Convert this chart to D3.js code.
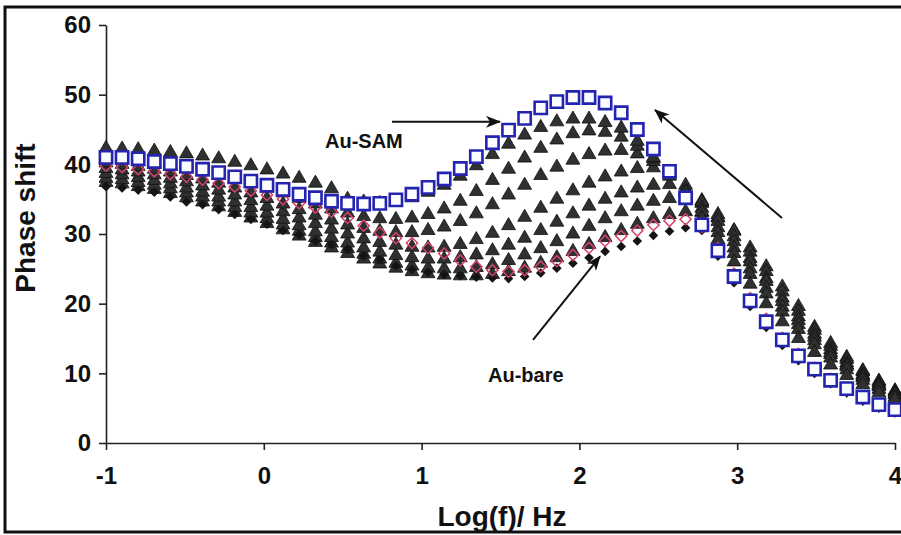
<!DOCTYPE html>
<html>
<head>
<meta charset="utf-8">
<script src="https://cdn.jsdelivr.net/npm/d3@7"></script>
<style>
body { margin: 0; background: #fff; }
svg text { font-family: Arial, "Liberation Sans", sans-serif; }
</style>
</head>
<body>
<div id="chart"></div>
<script>
// log of frequency (Hz), 50 points from 0.1 Hz to 10 kHz
var logF = [-1.000,-0.898,-0.796,-0.694,-0.592,-0.490,-0.388,-0.286,-0.184,-0.082,
            0.020,0.122,0.224,0.327,0.429,0.531,0.633,0.735,0.837,0.939,
            1.041,1.143,1.245,1.347,1.449,1.551,1.653,1.755,1.857,1.959,
            2.061,2.163,2.265,2.367,2.469,2.571,2.673,2.776,2.878,2.980,
            3.082,3.184,3.286,3.388,3.490,3.592,3.694,3.796,3.898,4.000];

// phase shift, degrees
var auSam = [41.0,41.0,40.8,40.4,40.1,39.7,39.3,38.8,38.2,37.6,
             37.0,36.4,35.7,35.2,34.7,34.4,34.3,34.4,34.9,35.7,
             36.7,37.9,39.4,41.1,43.1,44.9,46.6,48.1,49.0,49.6,
             49.6,48.8,47.4,45.0,42.2,39.0,35.2,31.3,27.6,23.9,
             20.4,17.4,14.8,12.5,10.6,9.0,7.8,6.6,5.5,4.8];

var auBare = [36.8,36.6,36.3,36.0,35.3,34.6,34.2,33.5,32.8,32.1,
              31.4,30.5,29.9,29.0,28.5,27.8,26.9,26.3,25.4,24.9,
              24.5,24.2,24.0,23.8,23.7,23.6,23.9,24.4,25.1,25.8,
              26.6,27.5,28.2,29.0,29.8,30.4,30.9,30.5,26.8,23.0,
              19.6,16.6,14.0,11.8,10.0,8.5,7.2,6.0,5.0,4.3];

var auBare2 = [39.8,39.6,39.3,39.0,38.6,38.2,37.8,37.3,36.8,36.2,
               35.6,35.0,34.4,33.8,33.2,32.3,31.2,30.2,29.4,28.7,
               28.0,27.2,26.2,25.3,24.8,24.6,24.8,25.3,26.1,27.0,
               28.0,29.0,29.7,30.5,31.3,31.9,32.1,31.0,28.0,24.3,
               20.8,17.8,15.1,12.8,10.8,9.2,7.8,6.6,5.6,4.9];

var tri1 = [42.3,42.2,42.1,41.9,41.7,41.5,41.2,40.8,40.3,39.8,
            39.2,38.6,38.0,37.3,36.5,35.0,34.6,34.4,34.6,35.2,
            36.0,37.0,38.3,39.8,41.4,42.9,44.2,45.3,46.1,46.5,
            46.5,46.0,45.2,43.3,41.0,38.3,35.3,32.3,29.2,26.0,
            22.8,20.0,17.4,15.0,13.0,11.2,9.7,8.4,7.2,6.3];
var tri2 = [40.8,40.6,40.4,40.1,39.8,39.4,39.0,38.5,37.9,37.3,
            36.6,35.9,35.1,34.3,33.6,33.0,32.5,32.2,32.1,32.3,
            32.8,33.6,34.7,36.1,37.7,39.3,40.9,42.3,43.5,44.4,
            44.8,44.6,43.9,42.6,40.8,38.6,36.0,33.2,30.2,27.2,
            24.2,21.4,18.8,16.3,14.1,12.2,10.5,9.0,7.7,6.6];
var tri3 = [40.2,40.0,39.7,39.3,38.9,38.4,37.9,37.3,36.6,35.9,
            35.1,34.3,33.5,32.7,32.0,31.3,30.8,30.4,30.2,30.2,
            30.5,31.0,31.8,32.9,34.2,35.6,37.0,38.4,39.6,40.6,
            41.4,41.9,42.0,41.5,40.4,38.6,36.3,33.7,30.9,28.0,
            25.0,22.2,19.5,17.0,14.7,12.7,11.0,9.4,8.1,7.0];
var tri4 = [39.4,39.2,38.9,38.5,38.0,37.5,36.9,36.3,35.6,34.8,
            34.0,33.2,32.3,31.5,30.7,30.0,29.3,28.8,28.4,28.1,
            28.0,28.1,28.5,29.2,30.1,31.2,32.4,33.7,35.0,36.2,
            37.3,38.2,38.9,39.4,39.5,38.8,37.0,34.6,31.8,28.9,
            26.0,23.2,20.3,17.6,15.2,13.0,11.2,9.6,8.2,7.0];
var tri5 = [38.7,38.5,38.1,37.7,37.2,36.6,36.0,35.3,34.6,33.8,
            33.0,32.1,31.2,30.3,29.5,28.7,28.0,27.4,26.9,26.6,
            26.4,26.4,26.6,27.0,27.6,28.4,29.4,30.5,31.7,32.9,
            34.0,35.0,35.9,36.6,37.0,37.1,36.4,34.8,32.4,29.6,
            26.5,23.6,20.8,18.1,15.6,13.4,11.5,9.8,8.4,7.2];
var tri6 = [38.0,37.8,37.4,37.0,36.5,35.9,35.3,34.6,33.8,33.0,
            32.2,31.3,30.4,29.5,28.7,27.9,27.1,26.4,25.8,25.4,
            25.1,25.0,25.0,25.2,25.6,26.2,27.0,27.9,28.9,30.0,
            31.1,32.2,33.2,34.0,34.7,35.1,35.1,34.4,32.8,30.4,
            27.4,24.6,21.7,18.9,16.2,13.9,12.0,10.2,8.7,7.4];
var tri7 = [37.4,37.2,36.8,36.4,35.8,35.2,34.6,33.9,33.1,32.3,
            31.5,30.6,29.7,28.8,28.0,27.2,26.4,25.7,25.1,24.6,
            24.3,24.1,24.0,24.0,24.2,24.6,25.1,25.8,26.6,27.5,
            28.5,29.5,30.5,31.4,32.2,32.8,33.2,33.1,32.3,30.5,
            28.0,25.3,22.4,19.6,16.6,14.3,12.3,10.4,8.9,7.5];

var xTicks = [-1, 0, 1, 2, 3, 4];
var yTicks = [0, 10, 20, 30, 40, 50, 60];

var width = 901, height = 535;

var svg = d3.select('#chart')
    .append('svg')
    .attr('width', width)
    .attr('height', height);

var x = d3.scaleLinear().domain([-1, 4]).range([106, 895]);
var y = d3.scaleLinear().domain([0, 60]).range([443, 25]);

// outer frame (right side runs off the picture)
svg.append('path')
    .attr('d', 'M' + (width + 5) + ',7H5V532H' + (width + 5))
    .style('fill', 'none')
    .style('stroke', '#111')
    .style('stroke-width', 3);

var xAxis = d3.axisBottom(x)
    .tickValues(xTicks)
    .tickSize(7)
    .tickSizeOuter(0)
    .tickPadding(17)
    .tickFormat(function (d) { return String(d); });

var yAxis = d3.axisLeft(y)
    .tickValues(yTicks)
    .tickSize(7)
    .tickSizeOuter(0)
    .tickPadding(8)
    .tickFormat(function (d) { return String(d); });

var xGuide = svg.append('g')
    .attr('transform', 'translate(0,' + y(0) + ')')
    .call(xAxis);
var yGuide = svg.append('g')
    .attr('transform', 'translate(' + x(-1) + ',0)')
    .call(yAxis);

[xGuide, yGuide].forEach(function (g) {
    g.selectAll('path, line')
        .style('stroke', '#222')
        .style('stroke-width', 1.6);
    g.selectAll('text')
        .style('font-size', '24px')
        .style('font-weight', 'bold')
        .style('fill', '#111');
});

// axis titles
svg.append('text')
    .attr('x', 502)
    .attr('y', 526)
    .attr('text-anchor', 'middle')
    .style('font-size', '28px')
    .style('font-weight', 'bold')
    .style('fill', '#111')
    .text('Log(f)/ Hz');

svg.append('text')
    .attr('transform', 'translate(35,' + 218 + ') rotate(-90)')
    .attr('text-anchor', 'middle')
    .style('font-size', '28px')
    .style('font-weight', 'bold')
    .style('fill', '#111')
    .text('Phase shift');

function points(vals) {
    return vals.map(function (v, i) { return [logF[i], v]; });
}

// triangle series
var triSeries = [tri7, tri6, tri5, tri4, tri3, tri2, tri1];
var triSym = d3.symbol().type(d3.symbolTriangle).size(84);

triSeries.forEach(function (s) {
    svg.append('g')
        .selectAll('path')
        .data(points(s))
        .enter().append('path')
            .attr('d', triSym)
            .attr('transform', function (d) {
                return 'translate(' + x(d[0]) + ',' + y(d[1]) + ')';
            })
            .style('fill', '#2e312f')
            .style('stroke', '#121212')
            .style('stroke-width', 0.8);
});

// Au-bare: filled black diamonds and open red diamonds
var diaSmall = d3.symbol().type(d3.symbolSquare).size(46);
var diaBig = d3.symbol().type(d3.symbolSquare).size(62);

svg.append('g')
    .selectAll('path')
    .data(points(auBare))
    .enter().append('path')
        .attr('d', diaSmall)
        .attr('transform', function (d) {
            return 'translate(' + x(d[0]) + ',' + y(d[1]) + ') rotate(45)';
        })
        .style('fill', '#141414');

svg.append('g')
    .selectAll('path')
    .data(points(auBare2))
    .enter().append('path')
        .attr('d', diaBig)
        .attr('transform', function (d) {
            return 'translate(' + x(d[0]) + ',' + y(d[1]) + ') rotate(45)';
        })
        .style('fill', 'none')
        .style('stroke', '#d8436b')
        .style('stroke-width', 1.5);

// Au-SAM: open blue squares
var sqSym = d3.symbol().type(d3.symbolSquare).size(150);

svg.append('g')
    .selectAll('path')
    .data(points(auSam))
    .enter().append('path')
        .attr('d', sqSym)
        .attr('transform', function (d) {
            return 'translate(' + x(d[0]) + ',' + y(d[1]) + ')';
        })
        .style('fill', '#fbfcff')
        .style('stroke', '#2424b0')
        .style('stroke-width', 2.6);

// annotations
svg.append('defs').append('marker')
    .attr('id', 'head')
    .attr('markerUnits', 'userSpaceOnUse')
    .attr('markerWidth', 16)
    .attr('markerHeight', 12)
    .attr('refX', 14)
    .attr('refY', 6)
    .attr('orient', 'auto')
    .append('path')
        .attr('d', 'M0,0L15,6L0,12L4,6Z')
        .style('fill', '#111');

var arrows = [
    [[0.812, 46.1], [1.497, 46.1]],
    [[1.706, 14.8], [2.131, 26.8]],
    [[3.284, 32.3], [2.479, 47.8]]
];

svg.append('g')
    .selectAll('line')
    .data(arrows)
    .enter().append('line')
        .attr('x1', function (d) { return x(d[0][0]); })
        .attr('y1', function (d) { return y(d[0][1]); })
        .attr('x2', function (d) { return x(d[1][0]); })
        .attr('y2', function (d) { return y(d[1][1]); })
        .style('stroke', '#111')
        .style('stroke-width', 2)
        .attr('marker-end', 'url(#head)');

svg.append('text')
    .attr('x', x(0.388))
    .attr('y', y(42.3))
    .style('font-size', '20px')
    .style('font-weight', 'bold')
    .style('fill', '#111')
    .text('Au-SAM');

svg.append('text')
    .attr('x', x(1.421))
    .attr('y', y(8.8))
    .style('font-size', '20px')
    .style('font-weight', 'bold')
    .style('fill', '#111')
    .text('Au-bare');
</script>
</body>
</html>
